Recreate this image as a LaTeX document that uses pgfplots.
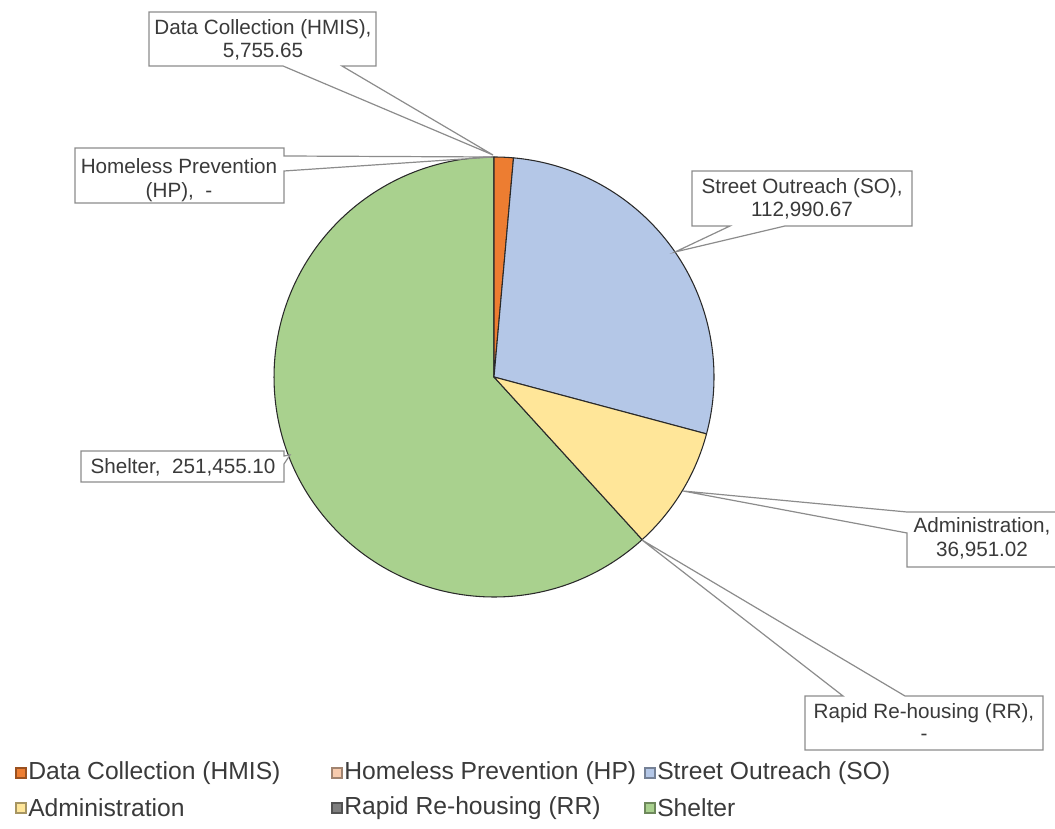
\documentclass[border=0pt]{standalone}
\usepackage{pgfplots}
\pgfplotsset{compat=1.18}
\usepackage{pgfplotstable}
\usepackage{fontspec}
\setmainfont{Liberation Sans}

\definecolor{cDC}{HTML}{ED7D31}
\definecolor{cHP}{HTML}{F8CBAD}
\definecolor{cSO}{HTML}{B4C7E7}
\definecolor{cAD}{HTML}{FFE699}
\definecolor{cRR}{HTML}{7F7F7F}
\definecolor{cSH}{HTML}{A9D18E}
\definecolor{boxline}{HTML}{8C8C8C}
\definecolor{pieline}{HTML}{2A2A2A}
\definecolor{txt}{HTML}{3A3A3A}

\pgfplotstableread{
category value
DC 5755.65
HP 0
SO 112990.67
AD 36951.02
RR 0
SH 251455.10
}\piedata

\begin{document}%
\begin{tikzpicture}
\pgfplotstablegetelem{0}{value}\of\piedata\let\vDC\pgfplotsretval
\pgfplotstablegetelem{1}{value}\of\piedata\let\vHP\pgfplotsretval
\pgfplotstablegetelem{2}{value}\of\piedata\let\vSO\pgfplotsretval
\pgfplotstablegetelem{3}{value}\of\piedata\let\vAD\pgfplotsretval
\pgfplotstablegetelem{4}{value}\of\piedata\let\vRR\pgfplotsretval
\pgfplotstablegetelem{5}{value}\of\piedata\let\vSH\pgfplotsretval
\edef\tot{\fpeval{\vDC+\vHP+\vSO+\vAD+\vRR+\vSH}}
\edef\aA{90}
\edef\aB{\fpeval{\aA-360*\vDC/\tot}}
\edef\aC{\fpeval{\aB-360*\vHP/\tot}}
\edef\aD{\fpeval{\aC-360*\vSO/\tot}}
\edef\aE{\fpeval{\aD-360*\vAD/\tot}}
\edef\aF{\fpeval{\aE-360*\vRR/\tot}}
\edef\aG{\fpeval{\aF-360*\vSH/\tot}}
\def\cx{494}\def\cy{451}\def\R{220}
\edef\xA{\fpeval{\cx+\R*cosd(\aA)}}\edef\yA{\fpeval{\cy+\R*sind(\aA)}}
\edef\xB{\fpeval{\cx+\R*cosd(\aB)}}\edef\yB{\fpeval{\cy+\R*sind(\aB)}}
\edef\xC{\fpeval{\cx+\R*cosd(\aC)}}\edef\yC{\fpeval{\cy+\R*sind(\aC)}}
\edef\xD{\fpeval{\cx+\R*cosd(\aD)}}\edef\yD{\fpeval{\cy+\R*sind(\aD)}}
\edef\xE{\fpeval{\cx+\R*cosd(\aE)}}\edef\yE{\fpeval{\cy+\R*sind(\aE)}}
\edef\xF{\fpeval{\cx+\R*cosd(\aF)}}\edef\yF{\fpeval{\cy+\R*sind(\aF)}}
\begin{axis}[
  scale only axis, width=791.25pt, height=621pt,
  xmin=0, xmax=1055, ymin=0, ymax=828,
  hide axis, clip=false,
]
% pie slices
\filldraw[fill=cSH, draw=pieline, line width=0.8pt, line join=round] (axis cs:\cx,\cy) -- (axis cs:\xF,\yF) arc[start angle=\aF, end angle=\aG, radius=\R] -- cycle;
\filldraw[fill=cDC, draw=pieline, line width=0.8pt, line join=round] (axis cs:\cx,\cy) -- (axis cs:\xA,\yA) arc[start angle=\aA, end angle=\aB, radius=\R] -- cycle;
\filldraw[fill=cSO, draw=pieline, line width=0.8pt, line join=round] (axis cs:\cx,\cy) -- (axis cs:\xC,\yC) arc[start angle=\aC, end angle=\aD, radius=\R] -- cycle;
\filldraw[fill=cAD, draw=pieline, line width=0.8pt, line join=round] (axis cs:\cx,\cy) -- (axis cs:\xD,\yD) arc[start angle=\aD, end angle=\aE, radius=\R] -- cycle;

% callouts
\tikzset{callout/.style={draw=boxline, fill=white, line width=0.9pt, line join=miter}}
\tikzset{lab/.style={text=txt, font=\fontsize{15.5}{18}\selectfont, inner sep=0pt, anchor=center}}
% Data Collection
\filldraw[callout] (axis cs:149,816) -- (axis cs:376,816) -- (axis cs:376,762) -- (axis cs:342,762) -- (axis cs:493,673) -- (axis cs:283,762) -- (axis cs:149,762) -- cycle;
\node[lab] at (axis cs:263,799) {Data Collection (HMIS),};
\node[lab] at (axis cs:263,776) {5,755.65};
% Homeless Prevention
\filldraw[callout] (axis cs:75,680) -- (axis cs:284,680) -- (axis cs:284,672) -- (axis cs:493,671) -- (axis cs:284,657) -- (axis cs:284,625) -- (axis cs:75,625) -- cycle;
\node[lab] at (axis cs:179,662) {Homeless Prevention};
\node[lab] at (axis cs:179,636) {(HP),\ \ -};
% Street Outreach
\filldraw[callout] (axis cs:692,657) -- (axis cs:912,657) -- (axis cs:912,602) -- (axis cs:785,602) -- (axis cs:675,576) -- (axis cs:730,602) -- (axis cs:692,602) -- cycle;
\node[lab] at (axis cs:802,640) {Street Outreach (SO),};
\node[lab] at (axis cs:802,617) {112,990.67};
% Shelter
\filldraw[callout] (axis cs:81,377) -- (axis cs:284,377) -- (axis cs:284,372) -- (axis cs:290,373) -- (axis cs:284,364) -- (axis cs:284,346) -- (axis cs:81,346) -- cycle;
\node[lab] at (axis cs:183,361) {Shelter,\ \ 251,455.10};
% Administration
\filldraw[callout] (axis cs:907,316) -- (axis cs:1062,316) -- (axis cs:1062,261) -- (axis cs:907,261) -- (axis cs:907,295) -- (axis cs:683,337) -- cycle;
\node[lab] at (axis cs:982,302) {Administration,};
\node[lab] at (axis cs:982,277) {36,951.02};
% Rapid Re-housing
\filldraw[callout] (axis cs:805,132) -- (axis cs:843,132) -- (axis cs:642,288) -- (axis cs:905,132) -- (axis cs:1043,132) -- (axis cs:1043,78) -- (axis cs:805,78) -- cycle;
\node[lab] at (axis cs:924,115) {Rapid Re-housing (RR),};
\node[lab] at (axis cs:924,91) {-};

% legend
\tikzset{leg/.style={text=txt, font=\fontsize{18.5}{22}\selectfont, inner sep=0pt, anchor=west}}
\filldraw[fill=cDC, draw=cDC!65!black, line width=0.8pt] (axis cs:16,50) rectangle (axis cs:26,60);
\node[leg] at (axis cs:28,55) {Data Collection (HMIS)};
\filldraw[fill=cHP, draw=cHP!65!black, line width=0.8pt] (axis cs:332,50) rectangle (axis cs:342,60);
\node[leg] at (axis cs:344,55) {Homeless Prevention (HP)};
\filldraw[fill=cSO, draw=cSO!65!black, line width=0.8pt] (axis cs:645,50) rectangle (axis cs:655,60);
\node[leg] at (axis cs:657,55) {Street Outreach (SO)};
\filldraw[fill=cAD, draw=cAD!65!black, line width=0.8pt] (axis cs:16,15) rectangle (axis cs:26,25);
\node[leg] at (axis cs:28,20) {Administration};
\filldraw[fill=cRR, draw=cRR!65!black, line width=0.8pt] (axis cs:332,15) rectangle (axis cs:342,25);
\node[leg] at (axis cs:344,20) {Rapid Re-housing (RR)};
\filldraw[fill=cSH, draw=cSH!65!black, line width=0.8pt] (axis cs:645,15) rectangle (axis cs:655,25);
\node[leg] at (axis cs:657,20) {Shelter};

\coordinate (SW) at (axis cs:0,0);
\coordinate (NE) at (axis cs:1055,828);
\end{axis}
\pgfresetboundingbox
\useasboundingbox (SW) rectangle (NE);
\end{tikzpicture}%
\end{document}
